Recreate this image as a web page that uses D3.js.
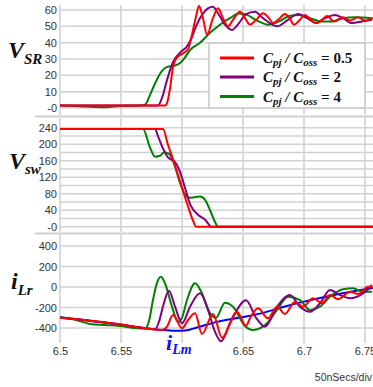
<!DOCTYPE html>
<html>
<head>
<meta charset="utf-8">
<script src="https://cdn.jsdelivr.net/npm/d3@7"></script>
<style>
  html, body { margin: 0; padding: 0; background: #fff; }
  svg { display: block; }
</style>
</head>
<body>
<script>
// ---- time axis (microseconds) ----
const timeDomain = [6.5, 6.75];
const timeGrid = [6.5, 6.55, 6.6, 6.65, 6.7, 6.75];
const timeLabels = [6.5, 6.55, 6.65, 6.7, 6.75];

// ---- value ticks per panel ----
const vsrTicks = [0, 10, 20, 30, 40, 50, 60];
const vswTicks = [0, 40, 80, 120, 160, 200, 240];
const vswGrid = [0, 20, 40, 60, 80, 100, 120, 140, 160, 180, 200, 220, 240];
const ilrTicks = [-400, -200, 0, 200, 400];

// ---- legend ----
const ratios = ["0.5", "2", "4"];
const colors = { red: "#ff0000", purple: "#800080", green: "#008000", blue: "#0000ff" };

// ---- V_SR waveforms [t, V] ----
const vsrRed = [[6.5,1.5],[6.5861,1.5],[6.5877,3],[6.5902,12],[6.5926,25],[6.5959,31],[6.6008,33.5],[6.6049,36],[6.6082,45],[6.6115,56],[6.6139,62.5],[6.6172,55],[6.6205,45],[6.6254,55],[6.6295,61],[6.6336,55],[6.6377,50],[6.6418,54],[6.6475,59],[6.6516,55],[6.6557,51],[6.6607,54],[6.6664,58],[6.6713,55],[6.6746,52],[6.6795,54.5],[6.6844,57.6],[6.6885,54.5],[6.6918,51],[6.6967,54],[6.7008,57],[6.7049,54.5],[6.7098,52],[6.7148,54],[6.7189,56.3],[6.7246,53],[6.7320,55.5],[6.7377,53.5],[6.7443,55.5],[6.7500,53.5],[6.7566,55]];
const vsrPurple = [[6.5,1.5],[6.5803,1.5],[6.5844,8],[6.5869,15],[6.5926,28],[6.5992,34.5],[6.6033,37],[6.6074,42],[6.6115,50],[6.6164,57],[6.6213,61],[6.6254,62],[6.6295,58],[6.6352,51],[6.6410,47.8],[6.6467,52],[6.6525,57.5],[6.6598,59],[6.6664,55],[6.6779,50],[6.6869,54],[6.6951,57.6],[6.7025,55],[6.7098,52],[6.7172,55],[6.7254,57],[6.7320,55],[6.7393,52],[6.7475,53],[6.7557,54]];
const vsrGreen = [[6.5,1.5],[6.5246,0.8],[6.5369,0.5],[6.5492,1.2],[6.5656,1.5],[6.5697,2],[6.5738,8],[6.5779,15],[6.5820,21],[6.5861,24.5],[6.5902,25.5],[6.5943,26],[6.5984,27.5],[6.6025,31],[6.6066,35.5],[6.6148,40],[6.6230,46],[6.6311,51],[6.6393,55],[6.6467,57.8],[6.6533,57],[6.6615,53.5],[6.6705,51],[6.6795,53],[6.6885,56.5],[6.6959,57],[6.7049,55],[6.7148,53],[6.7230,53],[6.7320,55],[6.7418,55.5],[6.7557,55]];

// ---- V_sw waveforms [t, V] ----
const vswRed = [[6.5,237],[6.5844,237],[6.5885,199],[6.5926,164],[6.5984,110],[6.6041,57],[6.6090,15],[6.6115,0],[6.7566,0]];
const vswPurple = [[6.5,237],[6.5779,237],[6.5803,220],[6.5844,190],[6.5885,168],[6.5943,157],[6.5984,133],[6.6025,94],[6.6066,55],[6.6131,29],[6.6189,17],[6.6213,8],[6.6238,0],[6.7566,0]];
const vswGreen = [[6.5,237],[6.5680,237],[6.5738,192],[6.5779,170],[6.5820,172],[6.5852,180],[6.5893,177],[6.5943,146],[6.5984,106],[6.6025,78],[6.6066,70],[6.6107,72],[6.6148,73],[6.6189,65],[6.6230,40],[6.6270,12],[6.6295,0],[6.7566,0]];

// ---- i_Lr waveforms [t, A] and magnetizing current i_Lm ----
const ilrRed = [[6.5,-300],[6.5164,-318],[6.5328,-340],[6.5492,-365],[6.5656,-395],[6.5779,-414],[6.5836,-420],[6.5877,-387],[6.5926,-273],[6.6000,-403],[6.6049,-322],[6.6107,-257],[6.6164,-459],[6.6254,-263],[6.6328,-495],[6.6451,-241],[6.6525,-380],[6.6557,-306],[6.6623,-208],[6.6705,-306],[6.6779,-192],[6.6844,-263],[6.6926,-143],[6.6992,-192],[6.7074,-110],[6.7148,-159],[6.7213,-78],[6.7279,-120],[6.7377,-46],[6.7443,-68],[6.7525,3],[6.7566,-5]];
const ilrPurple = [[6.5,-300],[6.5164,-320],[6.5328,-342],[6.5492,-366],[6.5656,-396],[6.5779,-413],[6.5811,-340],[6.5844,-190],[6.5893,-36],[6.5943,-192],[6.6000,-354],[6.6066,-192],[6.6148,-62],[6.6213,-224],[6.6270,-436],[6.6320,-530],[6.6393,-354],[6.6525,-130],[6.6607,-300],[6.6680,-387],[6.6779,-192],[6.6885,-78],[6.6967,-192],[6.7049,-241],[6.7131,-159],[6.7213,-29],[6.7295,-78],[6.7377,-110],[6.7484,-62],[6.7557,20]];
const ilrGreen = [[6.5,-296],[6.5123,-320],[6.5246,-360],[6.5369,-370],[6.5492,-380],[6.5615,-400],[6.5697,-405],[6.5730,-330],[6.5762,-127],[6.5795,40],[6.5828,100],[6.5861,36],[6.5918,-192],[6.5967,-338],[6.6000,-300],[6.6041,-127],[6.6107,36],[6.6164,-62],[6.6230,-257],[6.6279,-300],[6.6352,-153],[6.6418,-192],[6.6516,-380],[6.6582,-420],[6.6697,-354],[6.6779,-224],[6.6869,-95],[6.6967,-127],[6.7049,-224],[6.7131,-192],[6.7213,-95],[6.7320,-22],[6.7402,-13],[6.7484,-46],[6.7557,-46]];
const ilmBlue = [[6.5,-296],[6.5164,-318],[6.5328,-342],[6.5492,-366],[6.5656,-395],[6.5820,-418],[6.5943,-428],[6.6025,-425],[6.6123,-395],[6.6287,-340],[6.6475,-298],[6.6639,-260],[6.6828,-195],[6.6992,-145],[6.7238,-80],[6.7418,-40],[6.7566,-10]];

const W = 373, H = 387;
const plotLeft = 60, plotRight = 373;

const x = d3.scaleLinear().domain(timeDomain).range([60, 365]);

const panels = [
  { id: "vsr", y: d3.scaleLinear().domain([0, 60]).range([108, 10]), top: 5, bottom: 115,
    grid: vsrTicks, ticks: vsrTicks, zeroDash: true,
    series: [[vsrGreen, colors.green], [vsrPurple, colors.purple], [vsrRed, colors.red]] },
  { id: "vsw", y: d3.scaleLinear().domain([0, 240]).range([226.7, 127.8]), top: 118, bottom: 232,
    grid: vswGrid, ticks: vswTicks, zeroDash: true,
    series: [[vswGreen, colors.green], [vswPurple, colors.purple], [vswRed, colors.red]] },
  { id: "ilr", y: d3.scaleLinear().domain([-400, 400]).range([328, 246]), top: 235, bottom: 343,
    grid: ilrTicks, ticks: ilrTicks, zeroDash: false,
    series: [[ilmBlue, colors.blue], [ilrGreen, colors.green], [ilrPurple, colors.purple], [ilrRed, colors.red]] }
];

const svg = d3.select("body").append("svg").attr("width", W).attr("height", H);
svg.append("rect").attr("width", W).attr("height", H).attr("fill", "#fff");

const defs = svg.append("defs");
const gridColor = "#d2d2d2";

panels.forEach(p => {
  defs.append("clipPath").attr("id", "clip-" + p.id)
    .append("rect").attr("x", plotLeft).attr("y", p.top)
    .attr("width", plotRight - plotLeft).attr("height", p.bottom - p.top);

  const g = svg.append("g");

  // horizontal grid
  g.selectAll("line.h").data(p.grid).join("line")
    .attr("x1", plotLeft).attr("x2", plotRight)
    .attr("y1", d => p.y(d)).attr("y2", d => p.y(d))
    .attr("stroke", gridColor).attr("stroke-width", 1.5);

  // vertical grid
  g.selectAll("line.v").data(timeGrid).join("line")
    .attr("x1", d => x(d)).attr("x2", d => x(d))
    .attr("y1", p.top).attr("y2", p.bottom)
    .attr("stroke", gridColor).attr("stroke-width", 1.6);

  // value tick labels
  const axis = d3.axisLeft(p.y).tickValues(p.ticks).tickSize(0).tickPadding(3)
    .tickFormat(d => (d === 0 && p.zeroDash) ? "-0" : String(d));
  const ag = svg.append("g").attr("transform", `translate(${plotLeft},0)`).call(axis);
  ag.select(".domain").remove();
  ag.selectAll("text").attr("font-family", "'Liberation Sans', Arial, sans-serif")
    .attr("font-size", 11).attr("fill", "#333");

  // waveforms
  const line = d3.line().x(d => x(d[0])).y(d => p.y(d[1])).curve(d3.curveMonotoneX);
  const lg = svg.append("g").attr("clip-path", `url(#clip-${p.id})`);
  p.series.forEach(([data, color]) => {
    lg.append("path").datum(data).attr("d", line)
      .attr("fill", "none").attr("stroke", color).attr("stroke-width", 2)
      .attr("stroke-linejoin", "round");
  });
});

// panel separators
[116.5, 233.5].forEach(yy => {
  svg.append("line").attr("x1", 35).attr("x2", W).attr("y1", yy).attr("y2", yy)
    .attr("stroke", "#cfcfcf").attr("stroke-width", 2);
});

// time tick labels
const xa = d3.axisBottom(x).tickValues(timeLabels).tickSize(0).tickPadding(4).tickFormat(d => String(d));
const xg = svg.append("g").attr("transform", "translate(0,343)").call(xa);
xg.select(".domain").remove();
xg.selectAll("text").attr("font-family", "'Liberation Sans', Arial, sans-serif")
  .attr("font-size", 11).attr("fill", "#333");

svg.append("text").attr("x", 372).attr("y", 381).attr("text-anchor", "end")
  .attr("font-family", "'Liberation Sans', Arial, sans-serif").attr("font-size", 10.5)
  .attr("fill", "#333").text("50nSecs/div");

// quantity titles
const serif = "'Liberation Serif', 'Times New Roman', serif";
function title(xp, yp, main, sub, mainSize, subSize, subDy, color) {
  const t = svg.append("text").attr("x", xp).attr("y", yp)
    .attr("font-family", serif).attr("font-weight", "bold").attr("font-style", "italic")
    .attr("fill", color || "#111");
  t.append("tspan").attr("font-size", mainSize).text(main);
  t.append("tspan").attr("font-size", subSize).attr("dy", subDy).text(sub);
  return t;
}
title(8, 58, "V", "SR", 24, 15, 6);
title(9, 169, "V", "sw", 24, 15, 5);
title(11, 289, "i", "Lr", 24, 15, 6);
title(166, 350, "i", "Lm", 22, 14, 4, "#1010ee");

// legend
const lgd = svg.append("g");
lgd.append("rect").attr("x", 209).attr("y", 43).attr("width", 156).attr("height", 65)
  .attr("fill", "#fff").attr("stroke", "#c8c8c8").attr("stroke-width", 1.5);
const legendColors = [colors.red, colors.purple, colors.green];
const legendRows = [58, 77, 96.5];
ratios.forEach((r, i) => {
  const yy = legendRows[i];
  lgd.append("line").attr("x1", 220).attr("x2", 254).attr("y1", yy).attr("y2", yy)
    .attr("stroke", legendColors[i]).attr("stroke-width", 3);
  const t = lgd.append("text").attr("x", 263).attr("y", yy + 5)
    .attr("font-family", serif).attr("font-weight", "bold").attr("font-style", "italic")
    .attr("fill", "#111");
  t.append("tspan").attr("font-size", 15).text("C");
  t.append("tspan").attr("font-size", 11).attr("dy", 3).text("pj");
  t.append("tspan").attr("font-size", 15).attr("dy", -3).text(" / C");
  t.append("tspan").attr("font-size", 11).attr("dy", 3).text("oss");
  t.append("tspan").attr("font-size", 15).attr("dy", -3).attr("font-style", "normal").text(" = " + r);
});
</script>
</body>
</html>
